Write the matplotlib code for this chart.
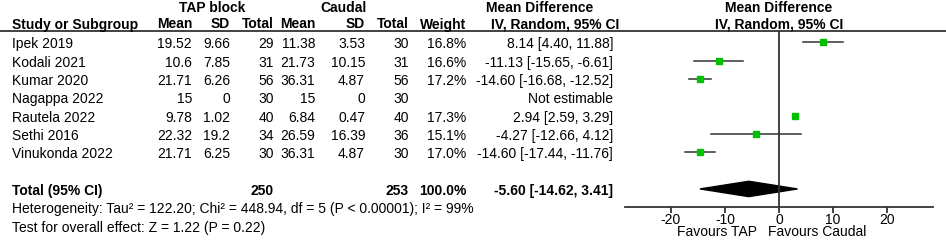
import matplotlib
matplotlib.use('Agg')
import matplotlib.pyplot as plt
from matplotlib.patches import Polygon

plt.rcParams['font.family'] = ['Liberation Sans', 'DejaVu Sans']
plt.rcParams['font.size'] = 10

studies = ['Ipek 2019', 'Kodali 2021', 'Kumar 2020', 'Nagappa 2022',
           'Rautela 2022', 'Sethi 2016', 'Vinukonda 2022']
tap_mean = ['19.52', '10.6', '21.71', '15', '9.78', '22.32', '21.71']
tap_sd = ['9.66', '7.85', '6.26', '0', '1.02', '19.2', '6.25']
tap_n = [29, 31, 56, 30, 40, 34, 30]
cau_mean = ['11.38', '21.73', '36.31', '15', '6.84', '26.59', '36.31']
cau_sd = ['3.53', '10.15', '4.87', '0', '0.47', '16.39', '4.87']
cau_n = [30, 31, 56, 30, 40, 36, 30]
weight = ['16.8%', '16.6%', '17.2%', '', '17.3%', '15.1%', '17.0%']
md = [8.14, -11.13, -14.60, None, 2.94, -4.27, -14.60]
lo = [4.40, -15.65, -16.68, None, 2.59, -12.66, -17.44]
hi = [11.88, -6.61, -12.52, None, 3.29, 4.12, -11.76]

total_md, total_lo, total_hi = -5.60, -14.62, 3.41
total_tap, total_cau = 250, 253
heterogeneity = 'Heterogeneity: Tau² = 122.20; Chi² = 448.94, df = 5 (P < 0.00001); I² = 99%'
overall = 'Test for overall effect: Z = 1.22 (P = 0.22)'
ticks = [-20, -10, 0, 10, 20]

W, H = 946, 240
row0, rowh = 42.3, 18.33  # pixel centre of first study row, row pitch

def px2row(p):
    return (p - row0) / rowh

fig = plt.figure(figsize=(W / 100, H / 100), dpi=100)
tab = fig.add_axes([0, 0, 1, 1])
tab.set_xlim(0, W)
tab.set_ylim(px2row(H), px2row(0))
tab.axis('off')

gray = '#333333'
green = '#00c000'
dy = 0.12

# headers
top = px2row(7.5)
tab.text(212, top, 'TAP block', ha='center', va='center', weight='bold')
tab.text(343, top, 'Caudal', ha='center', va='center', weight='bold')
tab.text(540, top, 'Mean Difference', ha='center', va='center', weight='bold')
tab.text(779, top, 'Mean Difference', ha='center', va='center', weight='bold')
sub = px2row(24.5)
hdr = [(12, 'Study or Subgroup', 'left'), (192, 'Mean', 'right'), (230, 'SD', 'right'),
       (274, 'Total', 'right'), (315, 'Mean', 'right'), (365, 'SD', 'right'),
       (409, 'Total', 'right'), (466, 'Weight', 'right')]
for x, s, ha in hdr:
    tab.text(x, sub, s, ha=ha, va='center', weight='bold')
tab.text(555, sub, 'IV, Random, 95% CI', ha='center', va='center', weight='bold')
tab.text(779, sub, 'IV, Random, 95% CI', ha='center', va='center', weight='bold')
tab.axhline(px2row(31), color=gray, lw=1.3)

for i, s in enumerate(studies):
    y = i + dy
    tab.text(12, y, s, va='center')
    tab.text(192, y, tap_mean[i], ha='right', va='center')
    tab.text(230, y, tap_sd[i], ha='right', va='center')
    tab.text(274, y, str(tap_n[i]), ha='right', va='center')
    tab.text(315, y, cau_mean[i], ha='right', va='center')
    tab.text(365, y, cau_sd[i], ha='right', va='center')
    tab.text(409, y, str(cau_n[i]), ha='right', va='center')
    tab.text(466, y, weight[i], ha='right', va='center')
    if md[i] is None:
        ci = 'Not estimable'
    else:
        ci = f'{md[i]:.2f} [{lo[i]:.2f}, {hi[i]:.2f}]'
    tab.text(613, y, ci, ha='right', va='center')

ty = 8 + dy
tab.text(12, ty, 'Total (95% CI)', va='center', weight='bold')
tab.text(274, ty, str(total_tap), ha='right', va='center', weight='bold')
tab.text(409, ty, str(total_cau), ha='right', va='center', weight='bold')
tab.text(466, ty, '100.0%', ha='right', va='center', weight='bold')
tab.text(613, ty, f'{total_md:.2f} [{total_lo:.2f}, {total_hi:.2f}]',
         ha='right', va='center', weight='bold')
tab.text(12, 9 + dy, heterogeneity, va='center')
tab.text(12, 10 + dy, overall, va='center')
fav = px2row(239.5)
tab.text(757, fav, 'Favours TAP', ha='right', va='bottom')
tab.text(768, fav, 'Favours Caudal', ha='left', va='bottom')

# forest panel
fx0, fx1, fy0, fy1 = 625, 933, 31, 207
ax = fig.add_axes([fx0 / W, (H - fy1) / H, (fx1 - fx0) / W, (fy1 - fy0) / H])
ax.set_xlim(-28.5, 28.5)
ax.set_ylim(px2row(fy1), px2row(fy0))
ax.patch.set_alpha(0)
for sp in ['top', 'right', 'left']:
    ax.spines[sp].set_visible(False)
ax.spines['bottom'].set_color(gray)
ax.spines['bottom'].set_linewidth(1.3)
ax.set_yticks([])
ax.set_xticks(ticks)
ax.set_xticklabels([str(t) for t in ticks])
ax.tick_params(axis='x', length=4, width=1.3, color=gray, pad=0, labelsize=10)
ax.axvline(0, color=gray, lw=1.3)

for i in range(len(studies)):
    if md[i] is None:
        continue
    ax.plot([lo[i], hi[i]], [i, i], color=gray, lw=1.1)
    ax.plot(md[i], i, 's', color=green, ms=4.2, mec=green)

dh = 0.42
ax.add_patch(Polygon([(total_lo, 8), (total_md, 8 - dh), (total_hi, 8), (total_md, 8 + dh)],
                     closed=True, color='black'))

fig.savefig('out.png', dpi=100)
